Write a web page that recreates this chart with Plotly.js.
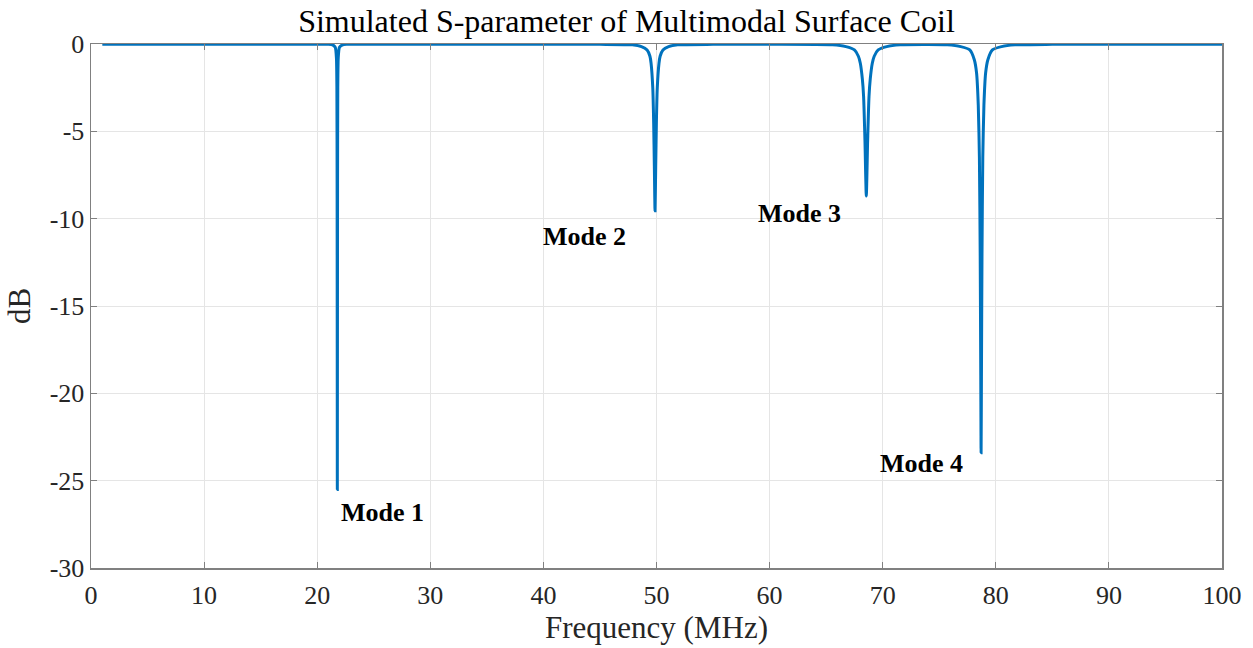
<!DOCTYPE html>
<html>
<head>
<meta charset="utf-8">
<script src="https://cdn.plot.ly/plotly-3.0.1.min.js"></script>
<style>html,body{margin:0;padding:0;background:#fff;}#chart{width:1253px;height:648px;}</style>
</head>
<body>
<div id="chart"></div>
<script>
// Frequency (MHz) and S11 (dB)
const freqBase = [1, 5, 10, 15, 20, 21.0, 21.4, 21.6, 21.7, 21.74, 21.76, 21.78, 21.8, 21.82, 21.86, 21.96, 22.2, 22.6, 25, 30, 40, 45, 47.87, 48.67, 49.17, 49.42, 49.52, 49.67, 49.75, 49.81, 49.87, 49.93, 49.99, 50.07, 50.22, 50.32, 50.57, 51.07, 51.87, 55, 60, 65.55, 66.75, 67.5, 67.85, 68.02, 68.2, 68.31, 68.43, 68.55, 68.67, 68.79, 68.9, 69.08, 69.25, 69.6, 70.35, 71.55, 74, 75.7, 76.9, 77.7, 78.1, 78.3, 78.45, 78.55, 78.62, 78.67, 78.7, 78.73, 78.78, 78.85, 78.95, 79.1, 79.3, 79.7, 80.5, 81.7, 85, 90, 95, 100];
const dbBase   = [-0.01, -0.01, -0.01, -0.01, -0.015, -0.02, -0.06, -0.2, -0.8, -2.5, -8, -25.5, -8, -2.5, -0.8, -0.2, -0.06, -0.02, -0.01, -0.01, -0.01, -0.02, -0.05, -0.15, -0.34, -0.7, -1.1, -2.5, -4.5, -7, -9.55, -7, -4.5, -2.5, -1.1, -0.7, -0.34, -0.15, -0.05, -0.02, -0.02, -0.05, -0.15, -0.34, -0.7, -1.1, -2, -3, -5.5, -8.7, -5.5, -3, -2, -1.1, -0.7, -0.34, -0.15, -0.05, -0.03, -0.05, -0.15, -0.34, -0.9, -1.66, -3.5, -6.5, -12, -19, -23.4, -19, -12, -6.5, -3.5, -1.66, -0.9, -0.34, -0.15, -0.05, -0.02, -0.01, -0.01, -0.01];

const modeLabels = ["Mode 1", "Mode 2", "Mode 3", "Mode 4"];
const modeLabelX = [25.8, 43.6, 62.6, 73.4];
const modeLabelY = [-26.8, -11.0, -9.7, -24.0];

const xTicks = [0, 10, 20, 30, 40, 50, 60, 70, 80, 90, 100];
const yTicks = [0, -5, -10, -15, -20, -25, -30];

const serif = "Liberation Serif, Times New Roman, serif";
const axisCol = "#808080";

const trace = {
  x: freqBase, y: dbBase, type: "scatter", mode: "lines",
  line: {color: "#0072BD", width: 3, shape: "spline", smoothing: 0.6}, hoverinfo: "skip"
};

const annotations = modeLabels.map((t, i) => ({
  x: modeLabelX[i], y: modeLabelY[i], xref: "x", yref: "y",
  text: "<b>" + t + "</b>", showarrow: false,
  font: {family: serif, size: 26, color: "#000"}
}));

const layout = {
  width: 1253, height: 648,
  margin: {l: 91, r: 31, t: 44, b: 80},
  paper_bgcolor: "#fff", plot_bgcolor: "#fff",
  showlegend: false,
  title: {text: "Simulated S-parameter of Multimodal Surface Coil", font: {family: serif, size: 32, color: "#000"}, x: 0.5, xanchor: "center", y: 0.968, yanchor: "middle"},
  xaxis: {
    range: [0, 100], tickvals: xTicks, ticktext: xTicks.map(String),
    showgrid: true, gridcolor: "#e5e5e5", gridwidth: 1, zeroline: false,
    showline: true, linecolor: axisCol, linewidth: 1.5, mirror: "ticks",
    ticks: "inside", ticklen: 6, tickcolor: axisCol, tickwidth: 1,
    ticklabelstandoff: 3,
    tickfont: {family: serif, size: 26, color: "#262626"},
    title: {text: "Frequency (MHz)", font: {family: serif, size: 31, color: "#262626"}, standoff: 6}
  },
  yaxis: {
    range: [-30, 0], tickvals: yTicks, ticktext: yTicks.map(String),
    showgrid: true, gridcolor: "#e5e5e5", gridwidth: 1, zeroline: false,
    showline: true, linecolor: axisCol, linewidth: 1.5, mirror: "ticks",
    ticks: "inside", ticklen: 6, tickcolor: axisCol, tickwidth: 1,
    tickfont: {family: serif, size: 26, color: "#262626"},
    title: {text: "dB", font: {family: serif, size: 31, color: "#262626"}, standoff: 10}
  },
  annotations: annotations
};

Plotly.newPlot("chart", [trace], layout, {displayModeBar: false, staticPlot: true});
</script>
</body>
</html>
